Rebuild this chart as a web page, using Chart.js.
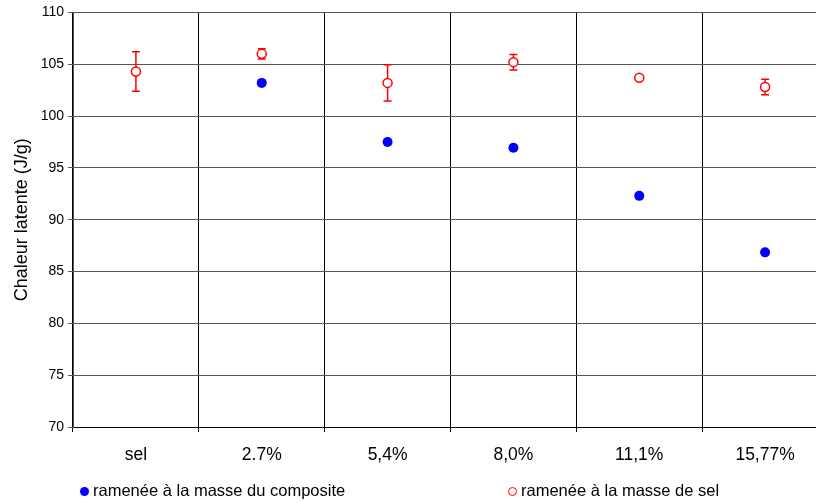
<!DOCTYPE html>
<html>
<head>
<meta charset="utf-8">
<script src="https://cdn.jsdelivr.net/npm/chart.js@4.4.0/dist/chart.umd.min.js"></script>
<style>
  body { margin: 0; overflow: hidden; background: #fff; font-family: "Liberation Sans", Arial, sans-serif; }
  .wrap { position: relative; width: 816px; height: 503px; overflow: hidden; }
  canvas { position: absolute; left: 0; top: 0; }
  .leg { position: absolute; top: 481px; font-size: 16.5px; color: #000; white-space: nowrap; }
  .leg span.dot { display: inline-block; width: 9px; height: 9px; border-radius: 50%; margin-right: 4px; vertical-align: 0px; box-sizing: border-box; }
</style>
</head>
<body>
<div class="wrap">
  <canvas id="grfc" width="834" height="503"></canvas>
  <div class="leg" style="left:80px"><span class="dot" style="background:#0000ff"></span>ramenée à la masse du composite</div>
  <div class="leg" style="left:508px"><span class="dot" style="border:1.5px solid #ff0000;background:#fff"></span>ramenée à la masse de sel</div>
</div>
<script>
// categories (taux de charge)
const categories = ['sel', '2.7%', '5,4%', '8,0%', '11,1%', '15,77%'];
// chaleur latente ramenée à la masse du composite
const composite = [null, 103.2, 97.5, 96.95, 92.3, 86.85];
// chaleur latente ramenée à la masse de sel
const sel = [104.3, 106.0, 103.2, 105.2, 103.7, 102.8];
// barres d'erreur (+/-) pour la série "sel"
const selErr = [1.9, 0.5, 1.75, 0.75, 0.2, 0.75];
const yTicks = [70, 75, 80, 85, 90, 95, 100, 105, 110];

// barres d'erreur dessinées avant les points
const errorBars = {
  id: 'errorBars',
  beforeDatasetsDraw(chart) {
    const ctx = chart.ctx;
    const xs = chart.scales.x, ys = chart.scales.y;
    ctx.save();
    ctx.strokeStyle = '#ff0000';
    ctx.lineWidth = 1.5;
    sel.forEach((v, i) => {
      const e = selErr[i];
      if (!e) return;
      const x = xs.getPixelForValue(i);
      const y1 = ys.getPixelForValue(v + e), y2 = ys.getPixelForValue(v - e);
      ctx.beginPath();
      ctx.moveTo(x, y1); ctx.lineTo(x, y2);
      ctx.moveTo(x - 4, y1); ctx.lineTo(x + 4, y1);
      ctx.moveTo(x - 4, y2); ctx.lineTo(x + 4, y2);
      ctx.stroke();
    });
    ctx.restore();
  }
};

new Chart(document.getElementById('grfc'), {
  type: 'line',
  data: {
    labels: categories,
    datasets: [{
      label: 'ramenée à la masse du composite',
      data: composite,
      showLine: false,
      pointRadius: 5,
      pointBackgroundColor: '#0000ff',
      pointBorderColor: '#0000ff',
      pointBorderWidth: 0
    }, {
      label: 'ramenée à la masse de sel',
      data: sel,
      showLine: false,
      pointRadius: 4.5,
      pointBackgroundColor: '#ffffff',
      pointBorderColor: '#ff0000',
      pointBorderWidth: 1.5
    }]
  },
  options: {
    responsive: false,
    animation: false,
    layout: { padding: { left: 0, right: 0, top: 12, bottom: 0 } },
    plugins: { legend: { display: false }, tooltip: { enabled: false } },
    scales: {
      x: {
        offset: true,
        grid: { offset: true, color: '#000', lineWidth: 1, tickLength: 5, drawTicks: true },
        border: { color: '#000', width: 1 },
        ticks: { color: '#000', padding: 13, font: { family: 'Liberation Sans', size: 17.5 } },
        afterFit: (s) => { s.height = 76; }
      },
      y: {
        min: 70,
        max: 110,
        afterBuildTicks: (s) => { s.ticks = yTicks.map(v => ({ value: v })); },
        grid: { color: '#555', lineWidth: 1, tickLength: 5 },
        border: { color: '#555', width: 1 },
        ticks: { color: '#000', padding: 4, font: { family: 'Liberation Sans', size: 14 } },
        title: {
          display: true,
          text: 'Chaleur latente (J/g)',
          color: '#000',
          padding: { top: 11, bottom: 0 },
          font: { family: 'Liberation Sans', size: 18 }
        },
        afterFit: (s) => { s.width = 73; }
      }
    }
  },
  plugins: [errorBars]
});
</script>
</body>
</html>
